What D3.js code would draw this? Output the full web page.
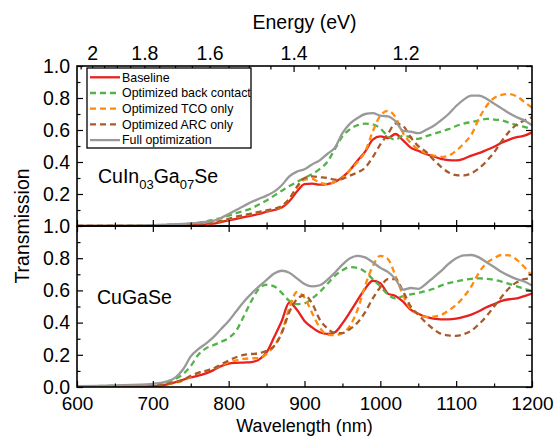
<!DOCTYPE html>
<html><head><meta charset="utf-8">
<script src="https://cdn.jsdelivr.net/npm/d3@7"></script>
<style>
html,body{margin:0;padding:0;background:#fff;}
svg{display:block;font-family:"Liberation Sans",Arial,Helvetica,sans-serif;}
</style></head>
<body>
<svg id="c" width="555" height="436"></svg>
<script>
// ---------------- DATA ----------------
const wavelength = [600,650,700,710,720,730,740,750,760,770,780,790,800,810,820,830,840,850,860,870,880,890,900,910,920,930,940,950,960,970,980,990,1000,1010,1020,1030,1040,1050,1060,1070,1080,1090,1100,1110,1120,1130,1140,1150,1160,1170,1180,1190,1200];

const seriesNames = ["Baseline","Optimized back contact","Optimized TCO only","Optimized ARC only","Full optimization"];

// Top panel: CuIn0.3Ga0.7Se
const cigsBaseline = [0,0,0,0,0,0,0.002,0.004,0.006,0.01,0.015,0.025,0.035,0.045,0.055,0.065,0.075,0.09,0.10,0.115,0.155,0.215,0.262,0.265,0.258,0.262,0.275,0.305,0.35,0.41,0.465,0.54,0.56,0.55,0.575,0.535,0.49,0.47,0.45,0.435,0.42,0.412,0.41,0.42,0.44,0.455,0.475,0.495,0.52,0.54,0.555,0.565,0.585];
const cigsBackContact = [0,0.002,0.005,0.006,0.008,0.01,0.012,0.015,0.02,0.028,0.04,0.05,0.065,0.08,0.095,0.11,0.135,0.16,0.19,0.22,0.25,0.275,0.30,0.325,0.355,0.40,0.48,0.56,0.605,0.63,0.64,0.635,0.61,0.56,0.54,0.565,0.555,0.545,0.56,0.575,0.59,0.605,0.625,0.64,0.65,0.66,0.67,0.665,0.66,0.645,0.63,0.62,0.605];
const cigsTCO = [0,0,0,0,0.001,0.002,0.004,0.006,0.009,0.014,0.02,0.03,0.042,0.055,0.066,0.075,0.085,0.095,0.105,0.12,0.17,0.24,0.29,0.295,0.27,0.262,0.275,0.30,0.35,0.40,0.465,0.59,0.69,0.72,0.68,0.58,0.52,0.48,0.455,0.44,0.432,0.44,0.47,0.515,0.57,0.67,0.75,0.80,0.82,0.825,0.81,0.775,0.74];
const cigsARC = [0,0,0,0,0.001,0.002,0.004,0.007,0.01,0.015,0.022,0.032,0.045,0.058,0.068,0.078,0.088,0.098,0.108,0.125,0.17,0.245,0.30,0.31,0.305,0.30,0.29,0.295,0.315,0.335,0.365,0.43,0.51,0.575,0.64,0.625,0.555,0.50,0.465,0.415,0.37,0.335,0.318,0.316,0.33,0.36,0.405,0.46,0.53,0.59,0.635,0.66,0.68];
const cigsFull = [0,0.002,0.005,0.007,0.009,0.011,0.013,0.016,0.02,0.025,0.032,0.05,0.075,0.10,0.125,0.15,0.17,0.19,0.215,0.255,0.31,0.34,0.355,0.385,0.41,0.45,0.49,0.58,0.64,0.675,0.70,0.705,0.69,0.685,0.655,0.595,0.59,0.58,0.60,0.625,0.66,0.70,0.75,0.79,0.815,0.815,0.795,0.765,0.735,0.705,0.68,0.66,0.63];

// Bottom panel: CuGaSe
const cgsBaseline = [0,0,0.003,0.008,0.018,0.03,0.045,0.06,0.07,0.085,0.105,0.13,0.145,0.15,0.152,0.155,0.17,0.215,0.31,0.41,0.525,0.48,0.41,0.37,0.34,0.33,0.34,0.395,0.465,0.54,0.61,0.66,0.645,0.58,0.565,0.53,0.48,0.455,0.435,0.425,0.42,0.42,0.425,0.435,0.45,0.47,0.495,0.515,0.535,0.545,0.55,0.565,0.58];
const cgsBackContact = [0.003,0.008,0.015,0.02,0.03,0.05,0.08,0.13,0.20,0.24,0.26,0.28,0.305,0.35,0.44,0.535,0.61,0.635,0.625,0.585,0.535,0.515,0.52,0.55,0.59,0.64,0.69,0.725,0.745,0.74,0.715,0.67,0.625,0.575,0.55,0.565,0.575,0.585,0.595,0.61,0.63,0.645,0.655,0.665,0.672,0.675,0.672,0.665,0.655,0.64,0.625,0.61,0.595];
const cgsTCO = [0,0,0.005,0.01,0.018,0.027,0.04,0.065,0.088,0.10,0.115,0.135,0.155,0.165,0.175,0.178,0.18,0.205,0.255,0.34,0.49,0.59,0.555,0.46,0.37,0.325,0.322,0.335,0.38,0.48,0.63,0.75,0.815,0.795,0.69,0.57,0.485,0.455,0.435,0.437,0.447,0.475,0.51,0.56,0.625,0.71,0.77,0.80,0.82,0.818,0.79,0.745,0.69];
const cgsARC = [0,0,0.006,0.012,0.02,0.03,0.045,0.07,0.088,0.10,0.115,0.14,0.165,0.185,0.20,0.205,0.21,0.225,0.255,0.335,0.465,0.545,0.57,0.52,0.42,0.365,0.335,0.335,0.36,0.40,0.465,0.55,0.62,0.67,0.67,0.595,0.50,0.45,0.40,0.36,0.33,0.32,0.317,0.328,0.35,0.39,0.44,0.50,0.56,0.615,0.65,0.67,0.675];
const cgsFull = [0.005,0.01,0.02,0.026,0.036,0.06,0.11,0.19,0.235,0.27,0.31,0.36,0.41,0.47,0.53,0.58,0.625,0.665,0.705,0.722,0.71,0.675,0.64,0.625,0.632,0.665,0.71,0.76,0.80,0.815,0.805,0.775,0.74,0.715,0.67,0.605,0.615,0.61,0.64,0.68,0.72,0.765,0.80,0.818,0.82,0.805,0.775,0.745,0.715,0.69,0.67,0.655,0.63];

const energyMajor = [2,1.8,1.6,1.4,1.2];
const energyMajorLabels = ["2","1.8","1.6","1.4","1.2"];
const energyMinor = [2.05,1.95,1.9,1.85,1.75,1.7,1.65,1.55,1.5,1.45,1.35,1.3,1.25,1.15,1.1,1.05];
const wlMajor = [600,700,800,900,1000,1100,1200];
const wlMinor = [650,750,850,950,1050,1150];
const yMajor = [0,0.2,0.4,0.6,0.8,1.0];
const yMinor = [0.1,0.3,0.5,0.7,0.9];

const panels = [
  {label:["CuIn","03","Ga","07","Se"], series:[cigsBaseline,cigsBackContact,cigsTCO,cigsARC,cigsFull]},
  {label:["CuGaSe"], series:[cgsBaseline,cgsBackContact,cgsTCO,cgsARC,cgsFull]}
];

const colors = ["#e8201e","#52b447","#ff8a0d","#a85a2a","#999999"];
const dashes = [null,"6,4","6,4","6,4",null];

// ---------------- LAYOUT ----------------
const L = 77, R = 532;
const svg = d3.select("#c");
const x = d3.scaleLinear().domain([600,1200]).range([L,R]);
const yScales = [
  d3.scaleLinear().domain([0,1]).range([226,66]),
  d3.scaleLinear().domain([0,1]).range([387,226])
];
const FS = 19.5;

const clip = svg.append("defs");
panels.forEach((p,i)=>{
  const y = yScales[i];
  clip.append("clipPath").attr("id","clip"+i).append("rect")
    .attr("x",L).attr("y",y(1)).attr("width",R-L).attr("height",y(0)-y(1));
});

function styleAxis(g, fs){
  g.select(".domain").remove();
  g.selectAll("line").attr("stroke","#000").attr("stroke-width",1.2);
  g.selectAll("text").attr("font-size",fs||FS).attr("fill","#000").attr("font-family","Liberation Sans, Arial, sans-serif");
}

panels.forEach((p,i)=>{
  const y = yScales[i];
  const top = y(1), bot = y(0);
  // lines
  const line = d3.line().x((d,k)=>x(wavelength[k])).y(d=>y(d)).curve(d3.curveMonotoneX);
  const g = svg.append("g").attr("clip-path","url(#clip"+i+")");
  p.series.forEach((s,k)=>{
    g.append("path").datum(s).attr("d",line)
      .attr("fill","none").attr("stroke",colors[k]).attr("stroke-width",2.3)
      .attr("stroke-dasharray",dashes[k]).attr("stroke-linejoin","round");
  });

  // bottom ticks (inward, up)
  svg.append("g").attr("transform",`translate(0,${bot})`)
    .call(d3.axisBottom(x).tickValues(wlMajor).tickSize(-6).tickPadding(10).tickFormat(i===1?d3.format("d"):()=>""))
    .call(g=>styleAxis(g,19));
  svg.append("g").attr("transform",`translate(0,${bot})`)
    .call(d3.axisBottom(x).tickValues(wlMinor).tickSize(-3.5).tickFormat(()=>""))
    .call(styleAxis);
  // top ticks
  if(i===1){
    svg.append("g").attr("transform",`translate(0,${top})`)
      .call(d3.axisTop(x).tickValues(wlMajor).tickSize(-6).tickFormat(()=>""))
      .call(styleAxis);
    svg.append("g").attr("transform",`translate(0,${top})`)
      .call(d3.axisTop(x).tickValues(wlMinor).tickSize(-3.5).tickFormat(()=>""))
      .call(styleAxis);
  } else {
    svg.append("g").attr("transform",`translate(0,${top})`)
      .call(d3.axisTop(x).tickValues(energyMajor.map(e=>1239.84/e)).tickSize(-6).tickPadding(6)
        .tickFormat((d,k)=>energyMajorLabels[k]))
      .call(styleAxis);
    svg.append("g").attr("transform",`translate(0,${top})`)
      .call(d3.axisTop(x).tickValues(energyMinor.map(e=>1239.84/e)).tickSize(-3.5).tickFormat(()=>""))
      .call(styleAxis);
  }
  // left
  const labVals = i===0 ? yMajor.filter(v=>v>0) : yMajor;
  svg.append("g").attr("transform",`translate(${L},0)`)
    .call(d3.axisLeft(y).tickValues(labVals).tickSize(-6).tickPadding(7).tickFormat(d3.format(".1f")))
    .call(styleAxis);
  svg.append("g").attr("transform",`translate(${L},0)`)
    .call(d3.axisLeft(y).tickValues(yMinor).tickSize(-3.5).tickFormat(()=>""))
    .call(styleAxis);
  // right
  svg.append("g").attr("transform",`translate(${R},0)`)
    .call(d3.axisRight(y).tickValues(yMajor).tickSize(-6).tickFormat(()=>""))
    .call(styleAxis);
  svg.append("g").attr("transform",`translate(${R},0)`)
    .call(d3.axisRight(y).tickValues(yMinor).tickSize(-3.5).tickFormat(()=>""))
    .call(styleAxis);
  // frame
  svg.append("rect").attr("x",L).attr("y",top).attr("width",R-L).attr("height",bot-top)
    .attr("fill","none").attr("stroke","#000").attr("stroke-width",1.6);

  // panel label
  const t = svg.append("text").attr("font-size",19.5).attr("fill","#000");
  if(i===0){
    t.attr("x",98).attr("y",183);
    p.label.forEach((s,k)=>{
      const sub = (k%2===1);
      t.append("tspan").text(s).attr("font-size",sub?13:19.5).attr("dy",sub?6:(k===0?0:-6));
    });
  } else {
    t.attr("x",97).attr("y",304).text(p.label[0]);
  }
});

// axis titles
svg.append("text").attr("x",(L+R)/2).attr("y",29).attr("text-anchor","middle").attr("font-size",FS).text("Energy (eV)");
svg.append("text").attr("x",(L+R)/2).attr("y",431.5).attr("text-anchor","middle").attr("font-size",18).text("Wavelength (nm)");
svg.append("text").attr("transform","translate(29,226) rotate(-90)").attr("text-anchor","middle").attr("font-size",FS).text("Transmission");

// legend
const lg = svg.append("g");
lg.append("rect").attr("x",87).attr("y",68).attr("width",164).attr("height",80)
  .attr("fill","#fff").attr("stroke","#000").attr("stroke-width",1.3);
seriesNames.forEach((n,k)=>{
  const yy = 77.3 + k*15.7;
  lg.append("line").attr("x1",90).attr("x2",120).attr("y1",yy).attr("y2",yy)
    .attr("stroke",colors[k]).attr("stroke-width",2.3).attr("stroke-dasharray",dashes[k]);
  lg.append("text").attr("x",122).attr("y",yy+4.3).attr("font-size",12.4).text(n);
});
</script>
</body></html>
